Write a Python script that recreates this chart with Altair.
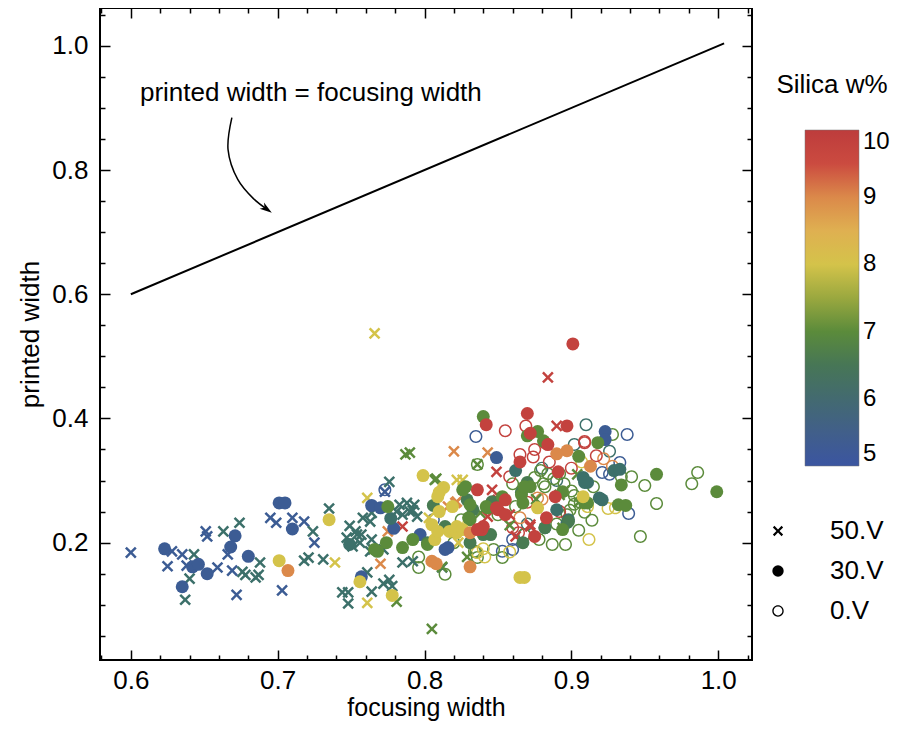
import altair as alt
import pandas as pd

FONT = "Liberation Sans"

# ---------------- data (focusing width, printed width) ----------------
# silica classes (w%) used for colouring
silica_code = {"B": 5.3, "T": 6.2, "D": 6.6, "G": 7.0, "Y": 8.0, "O": 9.0, "R": 9.8}
volts = ["50.V", "30.V", "0.V"]

# 50 V  (crosses)
x50_B = [0.600, 0.628, 0.635, 0.625, 0.638, 0.659, 0.651, 0.652, 0.666, 0.669, 0.672, 0.695, 0.699, 0.710, 0.718, 0.725, 0.703, 0.773]
y50_B = [0.184, 0.186, 0.181, 0.162, 0.163, 0.160, 0.218, 0.210, 0.181, 0.155, 0.116, 0.240, 0.232, 0.240, 0.234, 0.200, 0.123, 0.282]
x50_T = [0.643, 0.640, 0.637, 0.663, 0.674, 0.676, 0.678, 0.688, 0.687, 0.685, 0.724, 0.718, 0.721, 0.735, 0.749,
         0.754, 0.747, 0.751, 0.758, 0.763, 0.764, 0.783, 0.788, 0.790, 0.785, 0.793, 0.781, 0.763, 0.756, 0.772,
         0.731, 0.785, 0.792, 0.812, 0.761, 0.764, 0.772, 0.776, 0.778, 0.744, 0.748, 0.748, 0.776,
         0.792, 0.795, 0.753, 0.757, 0.764, 0.765]
y50_T = [0.181, 0.142, 0.108, 0.218, 0.232, 0.153, 0.148, 0.168, 0.148, 0.144, 0.218, 0.171, 0.176, 0.255, 0.227,
         0.213, 0.208, 0.194, 0.240, 0.234, 0.248, 0.261, 0.264, 0.250, 0.245, 0.261, 0.250, 0.186, 0.200, 0.189,
         0.173, 0.168, 0.170, 0.160, 0.152, 0.121, 0.134, 0.140, 0.130, 0.120, 0.120, 0.102, 0.298,
         0.252, 0.242, 0.218, 0.213, 0.205, 0.189]
x50_G = [0.787, 0.790, 0.808, 0.781, 0.805, 0.807, 0.829, 0.812, 0.836, 0.838, 0.858, 0.876, 0.905, 0.892, 0.904, 0.894]
y50_G = [0.342, 0.345, 0.303, 0.105, 0.061, 0.301, 0.177, 0.161, 0.326, 0.248, 0.228, 0.270, 0.265, 0.277, 0.310, 0.224]
x50_Y = [0.766, 0.761, 0.739, 0.761, 0.822, 0.826, 0.823, 0.803, 0.815]
y50_Y = [0.537, 0.272, 0.168, 0.103, 0.301, 0.301, 0.200, 0.240, 0.222]
x50_O = [0.820, 0.843, 0.770, 0.821, 0.816, 0.822, 0.775]
y50_O = [0.347, 0.345, 0.166, 0.264, 0.258, 0.266, 0.218]
x50_R = [0.884, 0.890, 0.785, 0.849, 0.862, 0.872, 0.858, 0.846, 0.850, 0.851, 0.843, 0.872]
y50_R = [0.466, 0.388, 0.226, 0.314, 0.210, 0.226, 0.245, 0.285, 0.269, 0.261, 0.242, 0.229]

# 30 V  (filled circles)
x30_B = [0.623, 0.642, 0.646, 0.635, 0.652, 0.671, 0.668, 0.680, 0.701, 0.705, 0.710, 0.764, 0.757, 0.779, 0.797, 0.816,
         0.849, 0.923, 0.923, 0.770, 0.814]
y30_B = [0.190, 0.161, 0.165, 0.129, 0.150, 0.211, 0.193, 0.178, 0.264, 0.264, 0.222, 0.260, 0.145, 0.223, 0.213, 0.192,
         0.337, 0.379, 0.366, 0.256, 0.189]
x30_T = [0.749, 0.777, 0.862, 0.929, 0.908, 0.911, 0.919, 0.921, 0.897, 0.933, 0.909, 0.890, 0.898, 0.882]
y30_T = [0.197, 0.239, 0.316, 0.316, 0.305, 0.297, 0.272, 0.269, 0.232, 0.318, 0.297, 0.253, 0.237, 0.224]
x30_D = [0.806, 0.814, 0.802, 0.831, 0.845, 0.867, 0.882, 0.898, 0.870, 0.866, 0.846, 0.833, 0.829, 0.840]
y30_D = [0.260, 0.226, 0.200, 0.200, 0.213, 0.200, 0.224, 0.234, 0.297, 0.281, 0.266, 0.253, 0.269, 0.213]
x30_G = [0.775, 0.774, 0.768, 0.766, 0.785, 0.792, 0.802, 0.840, 0.877, 0.881, 0.918, 0.905, 0.958, 0.934, 0.999,
         0.911, 0.932, 0.937, 0.894, 0.870, 0.872, 0.853, 0.842, 0.826, 0.831,
         0.828, 0.831, 0.843, 0.830, 0.866, 0.868, 0.867, 0.894, 0.909]
y30_G = [0.258, 0.200, 0.186, 0.189, 0.192, 0.205, 0.197, 0.403, 0.379, 0.364, 0.361, 0.339, 0.310, 0.293, 0.282,
         0.264, 0.261, 0.260, 0.221, 0.372, 0.290, 0.274, 0.258, 0.285, 0.237,
         0.290, 0.261, 0.256, 0.240, 0.277, 0.290, 0.264, 0.282, 0.264]
x30_Y = [0.701, 0.799, 0.813, 0.810, 0.809, 0.735, 0.756, 0.778, 0.819, 0.805, 0.817, 0.807, 0.822, 0.865, 0.868, 0.908,
         0.810, 0.822, 0.826, 0.809, 0.877]
y30_Y = [0.171, 0.308, 0.289, 0.281, 0.274, 0.237, 0.137, 0.115, 0.258, 0.229, 0.218, 0.205, 0.216, 0.144, 0.144, 0.274,
         0.250, 0.226, 0.221, 0.218, 0.256]
x30_O = [0.707, 0.805, 0.831, 0.897, 0.890, 0.913, 0.808, 0.831]
y30_O = [0.155, 0.170, 0.161, 0.348, 0.343, 0.323, 0.166, 0.216]
x30_R = [0.901, 0.842, 0.870, 0.897, 0.872, 0.884, 0.865, 0.889, 0.891, 0.883, 0.875, 0.839, 0.850, 0.855,
         0.836, 0.849, 0.855, 0.840, 0.836]
y30_R = [0.520, 0.390, 0.408, 0.388, 0.376, 0.358, 0.330, 0.274, 0.314, 0.240, 0.210, 0.221, 0.253, 0.269,
         0.285, 0.256, 0.245, 0.226, 0.221]

# 0 V  (open circles)
x0_B = [0.835, 0.938, 0.933, 0.921, 0.926, 0.939, 0.773, 0.860, 0.868, 0.845, 0.806, 0.853, 0.860]
y0_B = [0.371, 0.374, 0.329, 0.313, 0.310, 0.247, 0.285, 0.205, 0.213, 0.260, 0.237, 0.186, 0.189]
x0_T = [0.910, 0.902, 0.926, 0.880, 0.890, 0.870]
y0_T = [0.390, 0.358, 0.347, 0.320, 0.300, 0.230]
x0_G = [0.928, 0.934, 0.941, 0.950, 0.986, 0.982, 0.958, 0.947, 0.896, 0.902, 0.897, 0.796, 0.796, 0.814,
        0.836, 0.860, 0.875, 0.882, 0.900, 0.915, 0.850, 0.862, 0.878, 0.890, 0.905, 0.820, 0.835,
        0.825, 0.834, 0.836, 0.847, 0.853, 0.879, 0.884, 0.888, 0.892, 0.881, 0.895, 0.902, 0.906, 0.899,
        0.909, 0.914, 0.887, 0.868]
y0_G = [0.374, 0.306, 0.306, 0.292, 0.313, 0.295, 0.263, 0.210, 0.197, 0.262, 0.245, 0.177, 0.160, 0.149,
        0.326, 0.295, 0.305, 0.290, 0.283, 0.290, 0.245, 0.258, 0.205, 0.230, 0.220, 0.200, 0.185,
        0.237, 0.186, 0.176, 0.189, 0.176, 0.316, 0.311, 0.303, 0.311, 0.295, 0.295, 0.276, 0.265, 0.252,
        0.249, 0.236, 0.197, 0.213]
x0_Y = [0.907, 0.912, 0.925, 0.911, 0.858, 0.840, 0.830, 0.836, 0.841, 0.930]
y0_Y = [0.330, 0.205, 0.255, 0.258, 0.185, 0.190, 0.230, 0.184, 0.177, 0.256]
x0_O = [0.922, 0.928, 0.880, 0.865, 0.877]
y0_O = [0.335, 0.323, 0.270, 0.240, 0.272]
x0_R = [0.855, 0.869, 0.909, 0.917, 0.865, 0.858, 0.885, 0.875, 0.900, 0.870, 0.892, 0.860, 0.864, 0.874, 0.882, 0.909]
y0_R = [0.380, 0.388, 0.361, 0.340, 0.342, 0.306, 0.330, 0.350, 0.320, 0.265, 0.250, 0.224, 0.216, 0.338, 0.361, 0.363]

series = [
    ("0.V", "B", x0_B, y0_B), ("0.V", "T", x0_T, y0_T), ("0.V", "G", x0_G, y0_G),
    ("0.V", "Y", x0_Y, y0_Y), ("0.V", "O", x0_O, y0_O), ("0.V", "R", x0_R, y0_R),
    ("50.V", "B", x50_B, y50_B), ("50.V", "T", x50_T, y50_T), ("50.V", "G", x50_G, y50_G),
    ("50.V", "Y", x50_Y, y50_Y), ("50.V", "O", x50_O, y50_O), ("50.V", "R", x50_R, y50_R),
    ("30.V", "B", x30_B, y30_B), ("30.V", "T", x30_T, y30_T), ("30.V", "D", x30_D, y30_D),
    ("30.V", "G", x30_G, y30_G), ("30.V", "Y", x30_Y, y30_Y), ("30.V", "O", x30_O, y30_O),
    ("30.V", "R", x30_R, y30_R),
]

# identity line and annotation
line_x = [0.600, 1.004]
line_y = [0.600, 1.004]
arrow_x = [0.6688, 0.6662, 0.6728, 0.6835, 0.6926]
arrow_y = [0.8844, 0.8330, 0.7850, 0.7540, 0.7370]
note_text = "printed width = focusing width"
note_x = [0.7226]
note_y = [0.9246]

# colour scale (dark rainbow)
color_stops = [5.0, 5.5, 6.0, 6.5, 7.0, 7.5, 8.0, 8.5, 9.0, 9.5, 10.0]
color_range = ["#3b55a1", "#415f8a", "#436a70", "#477656", "#5b8b3b", "#9aa83f",
               "#d4c34a", "#dfb051", "#db894a", "#cb4b40", "#bd3c3c"]
legend_values = [5, 6, 7, 8, 9, 10]

x_major = [0.6, 0.7, 0.8, 0.9, 1.0]
x_minor = [0.58, 0.62, 0.64, 0.66, 0.68, 0.72, 0.74, 0.76, 0.78, 0.82, 0.84, 0.86, 0.88, 0.92, 0.94, 0.96, 0.98, 1.02]
y_major = [0.2, 0.4, 0.6, 0.8, 1.0]
y_minor = [0.05, 0.1, 0.15, 0.25, 0.3, 0.35, 0.45, 0.5, 0.55, 0.65, 0.7, 0.75, 0.85, 0.9, 0.95, 1.05]

# ---------------- build tables ----------------
rows = []
for volt, code, xs, ys in series:
    for xv, yv in zip(xs, ys):
        rows.append({"fw": xv, "pw": yv, "silica": silica_code[code], "volt": volt, "idx": len(rows)})
df = pd.DataFrame(rows)
line_df = pd.DataFrame({"lx": line_x, "ly": line_y})
arrow_df = pd.DataFrame({"ax": arrow_x, "ay": arrow_y, "i": list(range(len(arrow_x)))})
head_df = pd.DataFrame({"ax": arrow_x[-1:], "ay": arrow_y[-1:]})
note_df = pd.DataFrame({"nx": note_x, "ny": note_y, "t": [note_text]})
title_df = pd.DataFrame({"t": ["Silica w%"]})

W = H = 652
xscale = alt.Scale(domain=[0.579, 1.023], nice=False, zero=False)
yscale = alt.Scale(domain=[0.011, 1.061], nice=False, zero=False)

XPATH = "M-0.9,-0.63L-0.63,-0.9L0,-0.27L0.63,-0.9L0.9,-0.63L0.27,0L0.9,0.63L0.63,0.9L0,0.27L-0.63,0.9L-0.9,0.63L-0.27,0Z"
RING = ("M1,0A1,1,0,1,1,-1,0A1,1,0,1,1,1,0Z"
        "M0.77,0A0.77,0.77,0,1,0,-0.77,0A0.77,0.77,0,1,0,0.77,0Z")
HEAD = "M1,0L-1,-0.62L-0.45,0L-1,0.62Z"

pts = alt.Chart(df).mark_point(filled=True, size=169, opacity=1, strokeWidth=0).encode(
    x=alt.X("fw:Q", scale=xscale, axis=alt.Axis(
        orient="bottom", values=x_major, format=".1f", ticks=False, domain=False,
        labelFontSize=26, labelPadding=7, labelColor="black",
        title="focusing width", titleFontSize=25, titleFontWeight="normal", titleColor="black",
        titleY=55, titleBaseline="alphabetic")),
    y=alt.Y("pw:Q", scale=yscale, axis=alt.Axis(
        orient="left", values=y_major, format=".1f", ticks=False, domain=False,
        labelFontSize=26, labelPadding=12, labelColor="black",
        title="printed width", titleFontSize=26, titleFontWeight="normal", titlePadding=8, titleColor="black")),
    fill=alt.Fill("silica:Q", scale=alt.Scale(domain=color_stops, range=color_range),
                  legend=alt.Legend(title=None, orient="none", legendX=705, legendY=122, direction="vertical",
                                    gradientLength=336, gradientThickness=54, gradientStrokeColor="#777",
                                    gradientStrokeWidth=0.5, values=legend_values, labelFontSize=24,
                                    labelOffset=4, labelColor="black", labelBaseline="middle", padding=0)),
    shape=alt.Shape("volt:N", scale=alt.Scale(domain=volts, range=[XPATH, "circle", RING]),
                    legend=alt.Legend(title=None, orient="none", legendX=665, legendY=510, symbolSize=130,
                                      symbolFillColor="black", symbolStrokeWidth=0, labelFontSize=26,
                                      labelOffset=39, rowPadding=14, padding=0, labelColor="black")),
    order=alt.Order("idx:Q"),
)


def x_tick_layer(vals, size, orient):
    return alt.Chart(line_df).mark_line(opacity=0).encode(
        x=alt.X("lx:Q", scale=xscale, axis=alt.Axis(
            orient=orient, offset=-H, values=vals, tickSize=size, tickWidth=1.5, tickColor="black",
            labels=False, domain=False, title=None)),
        y=alt.Y("ly:Q", scale=yscale, axis=None),
    )


def y_tick_layer(vals, size, orient):
    return alt.Chart(line_df).mark_line(opacity=0).encode(
        x=alt.X("lx:Q", scale=xscale, axis=None),
        y=alt.Y("ly:Q", scale=yscale, axis=alt.Axis(
            orient=orient, offset=-W, values=vals, tickSize=size, tickWidth=1.5, tickColor="black",
            labels=False, domain=False, title=None)),
    )


ticks = [
    x_tick_layer(x_major, 10, "top"), x_tick_layer(x_minor, 5, "top"),
    x_tick_layer(x_major, 10, "bottom"), x_tick_layer(x_minor, 5, "bottom"),
    y_tick_layer(y_major, 10, "right"), y_tick_layer(y_minor, 5, "right"),
    y_tick_layer(y_major, 10, "left"), y_tick_layer(y_minor, 5, "left"),
]

ident = alt.Chart(line_df).mark_line(color="black", strokeWidth=2).encode(
    x=alt.X("lx:Q", scale=xscale, axis=None), y=alt.Y("ly:Q", scale=yscale, axis=None))

arrow = alt.Chart(arrow_df).mark_line(color="black", strokeWidth=1.5, interpolate="catmull-rom").encode(
    x=alt.X("ax:Q", scale=xscale, axis=None), y=alt.Y("ay:Q", scale=yscale, axis=None), order=alt.Order("i:Q"))

head = alt.Chart(head_df).mark_point(shape=HEAD, filled=True, size=150, angle=35, color="black", opacity=1).encode(
    x=alt.X("ax:Q", scale=xscale, axis=None), y=alt.Y("ay:Q", scale=yscale, axis=None))

note = alt.Chart(note_df).mark_text(fontSize=26, font=FONT, color="black", align="center", baseline="middle").encode(
    x=alt.X("nx:Q", scale=xscale, axis=None), y=alt.Y("ny:Q", scale=yscale, axis=None), text="t:N")

legend_title = alt.Chart(title_df).mark_text(fontSize=26, font=FONT, color="black", align="center",
                                             baseline="middle").encode(
    x=alt.value(732), y=alt.value(77), text="t:N")

chart = alt.layer(pts, *ticks, ident, arrow, head, note, legend_title).resolve_axis(
    x="independent", y="independent"
).properties(
    width=W, height=H,
    autosize=alt.AutoSizeParams(type="none"),
    padding={"left": 92, "top": 0, "right": 138, "bottom": 61},
).configure(
    font=FONT,
).configure_view(
    stroke="black", strokeWidth=2,
).configure_axis(
    grid=False, labelFont=FONT, titleFont=FONT,
).configure_legend(
    labelFont=FONT,
)

chart.save("out.html", embed_options={"renderer": "svg", "actions": False})
